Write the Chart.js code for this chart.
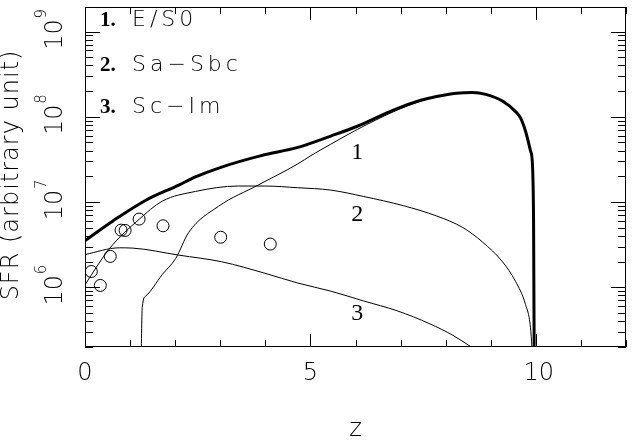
<!DOCTYPE html>
<html>
<head>
<meta charset="utf-8">
<script src="https://cdn.jsdelivr.net/npm/chart.js@4/dist/chart.umd.min.js"></script>
<style>
  html, body { margin: 0; padding: 0; background: #fff; }
</style>
</head>
<body>
<canvas id="sfrChart" width="633" height="441"></canvas>
<script>
  // total SFR (thick line)
  var zTotal = [0, 0.62, 1.35, 2.08, 2.45, 3.03, 3.91, 4.72, 5.45, 6.04, 6.84, 7.43, 7.80, 8.24, 8.60, 8.89, 9.26, 9.55, 9.66, 9.77, 9.88, 9.92, 9.94, 9.95, 9.965];
  var sfrTotal = [3.53e6, 6.0e6, 1.05e7, 1.58e7, 1.97e7, 2.57e7, 3.5e7, 4.37e7, 5.94e7, 7.74e7, 1.2e8, 1.55e8, 1.73e8, 1.89e8, 1.93e8, 1.83e8, 1.53e8, 1.15e8, 9.7e7, 6.8e7, 4.0e7, 3.06e7, 1.51e7, 5.7e6, 1.0e5];

  // 1. E/S0
  var zEarly = [1.24, 1.27, 1.35, 1.71, 2.01, 2.30, 2.96, 3.84, 4.72, 5.01, 5.45, 6.04, 6.85, 7.43, 7.80, 8.24, 8.60, 8.89, 9.26, 9.55, 9.66, 9.77, 9.88, 9.92, 9.94, 9.95, 9.965];
  var sfrEarly = [1.0e5, 5.8e5, 7.9e5, 1.4e6, 2.17e6, 4.4e6, 8.9e6, 1.58e7, 2.8e7, 3.5e7, 4.76e7, 7.1e7, 1.15e8, 1.52e8, 1.72e8, 1.89e8, 1.93e8, 1.83e8, 1.53e8, 1.15e8, 9.7e7, 6.8e7, 4.0e7, 3.06e7, 1.51e7, 5.7e6, 1.0e5];

  // 2. Sa-Sbc
  var zMid = [0, 0.54, 1.20, 1.71, 2.45, 3.40, 3.99, 4.72, 5.45, 6.18, 7.06, 7.80, 8.38, 8.82, 9.26, 9.55, 9.77, 9.88, 9.95];
  var sfrMid = [1.07e6, 2.83e6, 6.26e6, 1.02e7, 1.33e7, 1.54e7, 1.54e7, 1.47e7, 1.38e7, 1.16e7, 9.06e6, 6.85e6, 5.02e6, 3.38e6, 1.99e6, 1.17e6, 6.3e5, 3.4e5, 1.0e5];

  // 3. Sc-Im
  var zLate = [0, 0.76, 1.05, 2.08, 3.03, 3.99, 4.72, 5.45, 6.18, 6.92, 7.65, 8.16, 8.56, 9.0];
  var sfrLate = [2.42e6, 2.9e6, 2.88e6, 2.38e6, 1.99e6, 1.46e6, 1.12e6, 9.0e5, 6.9e5, 5.3e5, 3.72e5, 2.73e5, 2.0e5, 1.4e5];

  // observed points (open circles)
  var zObs = [0.14, 0.34, 0.56, 0.80, 0.89, 1.20, 1.73, 3.01, 4.11];
  var sfrObs = [1.53e6, 1.05e6, 2.3e6, 4.68e6, 4.64e6, 6.3e6, 5.26e6, 3.86e6, 3.21e6];

  // legend and curve labels
  var legendNums = ["1.", "2.", "3."];
  var legendNames = ["E/S0", "Sa\u2212Sbc", "Sc\u2212Im"];
  var curveLabels = ["1", "2", "3"];
  var curveLabelZ = [6.04, 6.04, 6.04];
  var curveLabelSfr = [3.8e7, 7.1e6, 4.9e5];

  // axes
  var xMin = 0, xMax = 12;
  var yMin = 1.99e5, yMax = 1.94e9;
  var xMajor = [0, 5, 10];
  var xMinor = [1, 2, 3, 4, 6, 7, 8, 9, 11, 12];
  var yMajor = [1e6, 1e7, 1e8, 1e9];
  var yExp = ["6", "7", "8", "9"];
  var yDecades = [1e5, 1e6, 1e7, 1e8, 1e9];
  var yMinorSteps = [2, 3, 4, 5, 6, 7, 8, 9];

  function pts(xs, ys) {
    return xs.map(function (x, i) { return { x: x, y: ys[i] }; });
  }

  var SANS = "'DejaVu Sans', sans-serif";
  var SERIF = "'Liberation Serif', 'DejaVu Serif', serif";

  var framePlugin = {
    id: "frame",
    afterDraw: function (chart) {
      var c = chart.ctx, a = chart.chartArea;
      var xs = chart.scales.x, ys = chart.scales.y;
      c.save();
      c.strokeStyle = "#000";
      c.lineWidth = 1;
      c.strokeRect(a.left + 0.5, a.top + 0.5, a.right - a.left - 1, a.bottom - a.top - 1);

      function xTick(v, len) {
        var px = Math.round(xs.getPixelForValue(v)) + 0.5;
        c.moveTo(px, a.bottom); c.lineTo(px, a.bottom - len);
        c.moveTo(px, a.top); c.lineTo(px, a.top + len);
      }
      function yTick(v, len) {
        var py = ys.getPixelForValue(v);
        if (py < a.top || py > a.bottom) return;
        py = Math.round(py) + 0.5;
        c.moveTo(a.left, py); c.lineTo(a.left + len, py);
        c.moveTo(a.right, py); c.lineTo(a.right - len, py);
      }
      c.beginPath();
      xMajor.forEach(function (v) { xTick(v, 13); });
      xMinor.forEach(function (v) { xTick(v, 7); });
      yMajor.forEach(function (v) { yTick(v, 15); });
      yDecades.forEach(function (d) {
        yMinorSteps.forEach(function (m) { yTick(d * m, 8); });
      });
      c.stroke();

      c.fillStyle = "#000";
      // x tick labels
      c.font = "300 24px " + SANS;
      c.textAlign = "center";
      c.textBaseline = "middle";
      xMajor.forEach(function (v) {
        var shift = v >= 10 ? 3 : 0;
        c.fillText(String(v), xs.getPixelForValue(v) + shift, 374);
      });
      // x title
      c.fillText("z", (a.left + a.right) / 2, 430);

      // y tick labels, rotated
      yMajor.forEach(function (v, i) {
        var py = ys.getPixelForValue(v);
        c.save();
        c.translate(56, py);
        c.rotate(-Math.PI / 2);
        c.font = "300 24px " + SANS;
        c.textAlign = "center";
        c.textBaseline = "middle";
        c.fillText("10", -3, 0);
        c.font = "300 15px " + SANS;
        c.textAlign = "left";
        c.fillText(yExp[i], 13, -14);
        c.restore();
      });

      // y title
      c.save();
      c.translate(12, 175);
      c.rotate(-Math.PI / 2);
      c.font = "300 24px " + SANS;
      c.letterSpacing = "1px";
      c.textAlign = "center";
      c.textBaseline = "middle";
      c.fillText("SFR (arbitrary unit)", 0, 0);
      c.restore();

      // legend
      var baselines = [26, 71, 113];
      c.textBaseline = "alphabetic";
      c.textAlign = "left";
      legendNums.forEach(function (t, i) {
        c.font = "bold 21px " + SERIF;
        c.letterSpacing = "0px";
        c.fillText(t, a.left + 15, baselines[i]);
        c.font = "300 22px " + SANS;
        c.letterSpacing = "4px";
        c.fillText(legendNames[i], a.left + 47, baselines[i]);
      });
      c.letterSpacing = "0px";

      // curve labels
      c.font = "24px " + SERIF;
      c.textAlign = "center";
      c.textBaseline = "middle";
      curveLabels.forEach(function (t, i) {
        c.fillText(t, xs.getPixelForValue(curveLabelZ[i]), ys.getPixelForValue(curveLabelSfr[i]));
      });
      c.restore();
    }
  };

  function lineSet(label, xs, ys, width) {
    return {
      label: label,
      data: pts(xs, ys),
      showLine: true,
      borderColor: "#000",
      borderWidth: width,
      pointRadius: 0,
      cubicInterpolationMode: "monotone",
      fill: false
    };
  }

  new Chart(document.getElementById("sfrChart").getContext("2d"), {
    type: "scatter",
    data: {
      datasets: [
        lineSet("total", zTotal, sfrTotal, 3),
        lineSet("E/S0", zEarly, sfrEarly, 1),
        lineSet("Sa-Sbc", zMid, sfrMid, 1),
        lineSet("Sc-Im", zLate, sfrLate, 1),
        {
          label: "observed",
          data: pts(zObs, sfrObs),
          showLine: false,
          pointStyle: "circle",
          pointRadius: 6,
          pointBorderWidth: 1,
          pointBorderColor: "#000",
          pointBackgroundColor: "rgba(0,0,0,0)"
        }
      ]
    },
    options: {
      responsive: false,
      animation: false,
      devicePixelRatio: 1,
      layout: { padding: { left: 85, right: 2, top: 0, bottom: 94 } },
      scales: {
        x: { type: "linear", min: xMin, max: xMax, display: false },
        y: { type: "logarithmic", min: yMin, max: yMax, display: false }
      },
      plugins: {
        legend: { display: false },
        tooltip: { enabled: false }
      }
    },
    plugins: [framePlugin]
  });
</script>
</body>
</html>
